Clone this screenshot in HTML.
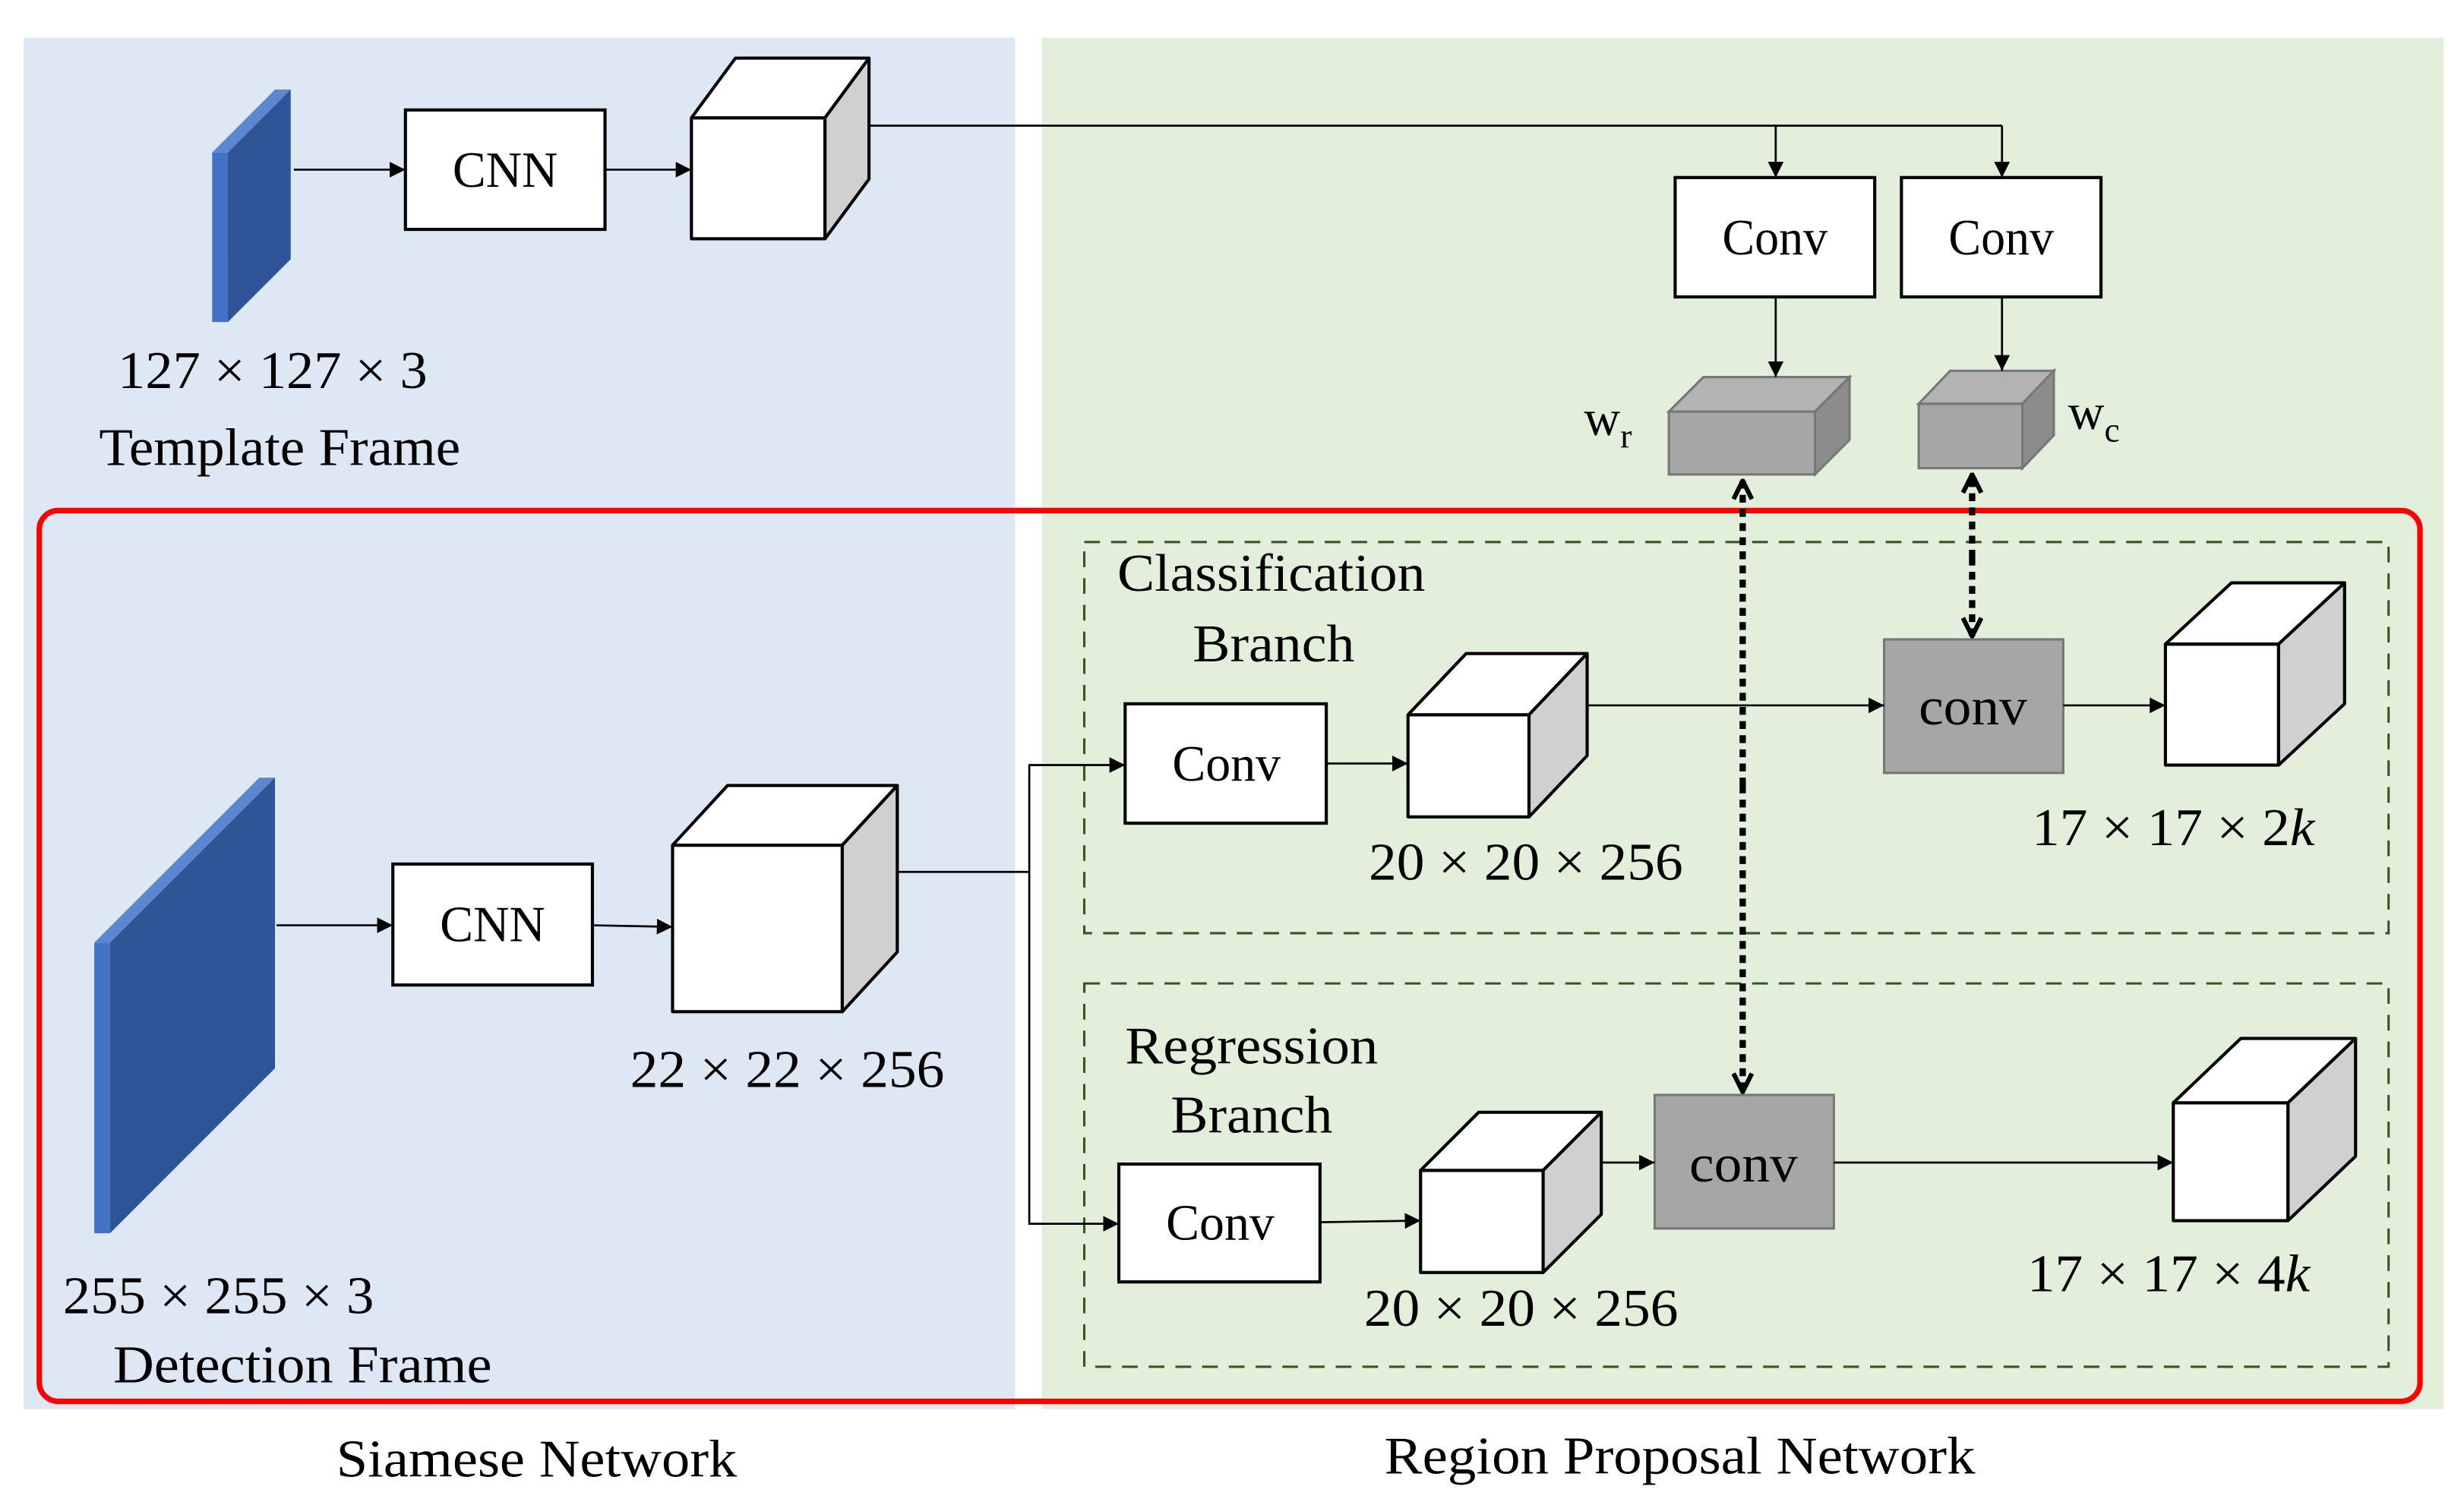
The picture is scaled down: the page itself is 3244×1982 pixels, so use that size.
<!DOCTYPE html>
<html><head><meta charset="utf-8"><style>html,body{margin:0;padding:0;background:#fff}svg{display:block}</style></head><body>
<svg width="3244" height="1982" viewBox="0 0 1568 958" xmlns="http://www.w3.org/2000/svg" font-family="'Liberation Serif', serif">
<defs>
<marker id="a" viewBox="0 0 10 10" refX="10" refY="5" markerWidth="10" markerHeight="10" markerUnits="userSpaceOnUse" orient="auto"><path d="M0,0L10,5L0,10z" fill="#000"/></marker>
<marker id="o" viewBox="0 0 12 12" refX="11" refY="6" markerWidth="14" markerHeight="14" markerUnits="userSpaceOnUse" orient="auto"><path d="M1,1L11,6L1,11" fill="none" stroke="#000" stroke-width="2.5"/></marker>
</defs>
<rect width="1568" height="958" fill="#fff"/>
<rect x="15" y="24" width="631" height="873" fill="#dee8f4"/>
<rect x="663" y="24" width="892" height="873" fill="#e2efda"/>

<polygon points="135,97 145,97 145,205 135,205" fill="#4472c4"/>
<polygon points="135,97 175,57 185,57 145,97" fill="#5b86d0"/>
<polygon points="145,97 185,57 185,165 145,205" fill="#2f5597"/>
<polygon points="60,600 70,600 70,785 60,785" fill="#4472c4"/>
<polygon points="60,600 165,495 175,495 70,600" fill="#5b86d0"/>
<polygon points="70,600 175,495 175,680 70,785" fill="#2f5597"/>

<g stroke="#000" stroke-width="2" fill="#fff">
<rect x="258" y="70" width="127" height="76"/>
<rect x="250" y="550" width="127" height="77"/>
<rect x="1066" y="113" width="127" height="76"/>
<rect x="1210" y="113" width="127" height="76"/>
<rect x="716" y="448" width="128" height="76"/>
<rect x="712" y="741" width="128" height="75"/>
</g>
<g fill="#000" font-size="32" lengthAdjust="spacingAndGlyphs">
<text x="288" y="119" textLength="67" lengthAdjust="spacingAndGlyphs">CNN</text>
<text x="280" y="599" textLength="67" lengthAdjust="spacingAndGlyphs">CNN</text>
<text x="1096" y="162" textLength="67" lengthAdjust="spacingAndGlyphs">Conv</text>
<text x="1240" y="162" textLength="67" lengthAdjust="spacingAndGlyphs">Conv</text>
<text x="746" y="497" textLength="69" lengthAdjust="spacingAndGlyphs">Conv</text>
<text x="742" y="789" textLength="69" lengthAdjust="spacingAndGlyphs">Conv</text>
</g>

<g stroke="#000" stroke-width="2" stroke-linejoin="round">
<g><rect x="440" y="75" width="85" height="77" fill="#fff"/><polygon points="440,75 468,37 553,37 525,75" fill="#fff"/><polygon points="525,75 553,37 553,114 525,152" fill="#d0d0d0"/></g>
<g><rect x="428" y="538" width="108" height="106" fill="#fff"/><polygon points="428,538 463,500 571,500 536,538" fill="#fff"/><polygon points="536,538 571,500 571,606 536,644" fill="#d0d0d0"/></g>
<g><rect x="896" y="455" width="77" height="65" fill="#fff"/><polygon points="896,455 933,416 1010,416 973,455" fill="#fff"/><polygon points="973,455 1010,416 1010,481 973,520" fill="#d0d0d0"/></g>
<g><rect x="1378" y="410" width="72" height="77" fill="#fff"/><polygon points="1378,410 1420,371 1492,371 1450,410" fill="#fff"/><polygon points="1450,410 1492,371 1492,448 1450,487" fill="#d0d0d0"/></g>
<g><rect x="904" y="745" width="78" height="65" fill="#fff"/><polygon points="904,745 941,708 1019,708 982,745" fill="#fff"/><polygon points="982,745 1019,708 1019,773 982,810" fill="#d0d0d0"/></g>
<g><rect x="1383" y="702" width="73" height="75" fill="#fff"/><polygon points="1383,702 1426,661 1499,661 1456,702" fill="#fff"/><polygon points="1456,702 1499,661 1499,736 1456,777" fill="#d0d0d0"/></g>
</g>
<g stroke="#777" stroke-width="1.5">
<rect x="1062" y="262" width="93" height="40" fill="#a6a6a6"/><polygon points="1062,262 1084,240 1177,240 1155,262" fill="#b3b3b3"/><polygon points="1155,262 1177,240 1177,280 1155,302" fill="#8c8c8c"/>
<rect x="1221" y="257" width="66" height="41" fill="#a6a6a6"/><polygon points="1221,257 1241,236 1307,236 1287,257" fill="#b3b3b3"/><polygon points="1287,257 1307,236 1307,277 1287,298" fill="#8c8c8c"/>
<rect x="1199" y="407" width="114" height="85" fill="#a6a6a6"/>
<rect x="1053" y="697" width="114" height="85" fill="#a6a6a6"/>
</g>
<g fill="#000" font-size="34">
<text x="1221" y="461" textLength="69" lengthAdjust="spacingAndGlyphs">conv</text>
<text x="1075" y="752" textLength="69" lengthAdjust="spacingAndGlyphs">conv</text>
</g>
<text x="1008" y="277" font-size="32">w<tspan font-size="22" dy="8">r</tspan></text>
<text x="1316" y="273" font-size="32">w<tspan font-size="22" dy="8">c</tspan></text>

<rect x="25" y="325" width="1515" height="567" rx="12" fill="none" stroke="#ff0000" stroke-width="3.5"/>
<rect x="690" y="345" width="830" height="249" fill="none" stroke="#375623" stroke-width="1.5" stroke-dasharray="10,7"/>
<rect x="690" y="626" width="830" height="244" fill="none" stroke="#375623" stroke-width="1.5" stroke-dasharray="10,7"/>

<g stroke="#000" stroke-width="1.3" fill="none">
<line x1="187" y1="108" x2="258" y2="108" marker-end="url(#a)"/>
<line x1="385" y1="108" x2="440" y2="108" marker-end="url(#a)"/>
<polyline points="553,80 1274,80"/>
<line x1="1130" y1="80" x2="1130" y2="113" marker-end="url(#a)"/>
<line x1="1274" y1="80" x2="1274" y2="113" marker-end="url(#a)"/>
<line x1="1130" y1="189" x2="1130" y2="240" marker-end="url(#a)"/>
<line x1="1274" y1="189" x2="1274" y2="236" marker-end="url(#a)"/>
<line x1="176" y1="589" x2="250" y2="589" marker-end="url(#a)"/>
<line x1="377" y1="589" x2="428" y2="590" marker-end="url(#a)"/>
<polyline points="571,555 655,555"/>
<polyline points="716,487 655,487 655,779 712,779"/>
<line x1="655" y1="487" x2="716" y2="487" marker-end="url(#a)"/>
<line x1="655" y1="779" x2="712" y2="779" marker-end="url(#a)"/>
<line x1="844" y1="486" x2="896" y2="486" marker-end="url(#a)"/>
<line x1="1010" y1="449" x2="1199" y2="449" marker-end="url(#a)"/>
<line x1="1313" y1="449" x2="1378" y2="449" marker-end="url(#a)"/>
<line x1="840" y1="778" x2="904" y2="777" marker-end="url(#a)"/>
<line x1="1019" y1="740" x2="1053" y2="740" marker-end="url(#a)"/>
<line x1="1167" y1="740" x2="1383" y2="740" marker-end="url(#a)"/>
</g>
<g stroke="#000" stroke-width="4" stroke-dasharray="5,4" fill="none">
<line x1="1109" y1="500" x2="1109" y2="306" marker-end="url(#o)"/>
<line x1="1109" y1="500" x2="1109" y2="695" marker-end="url(#o)"/>
<line x1="1255" y1="355" x2="1255" y2="302" marker-end="url(#o)"/>
<line x1="1255" y1="355" x2="1255" y2="405" marker-end="url(#o)"/>
</g>

<g fill="#000" font-size="34">
<text x="75" y="247" textLength="197" lengthAdjust="spacingAndGlyphs">127 × 127 × 3</text>
<text x="63" y="296" textLength="230" lengthAdjust="spacingAndGlyphs">Template Frame</text>
<text x="40" y="836" textLength="198" lengthAdjust="spacingAndGlyphs">255 × 255 × 3</text>
<text x="72" y="880" textLength="241" lengthAdjust="spacingAndGlyphs">Detection Frame</text>
<text x="401" y="692" textLength="200" lengthAdjust="spacingAndGlyphs">22 × 22 × 256</text>
<text x="711" y="376" textLength="196" lengthAdjust="spacingAndGlyphs">Classification</text>
<text x="759" y="421" textLength="103" lengthAdjust="spacingAndGlyphs">Branch</text>
<text x="871" y="560" textLength="200" lengthAdjust="spacingAndGlyphs">20 × 20 × 256</text>
<text x="1293" y="538" textLength="180" lengthAdjust="spacingAndGlyphs">17 × 17 × 2<tspan font-style="italic">k</tspan></text>
<text x="716" y="677" textLength="161" lengthAdjust="spacingAndGlyphs">Regression</text>
<text x="745" y="721" textLength="103" lengthAdjust="spacingAndGlyphs">Branch</text>
<text x="868" y="844" textLength="200" lengthAdjust="spacingAndGlyphs">20 × 20 × 256</text>
<text x="1290" y="822" textLength="180" lengthAdjust="spacingAndGlyphs">17 × 17 × 4<tspan font-style="italic">k</tspan></text>
<text x="214" y="940" textLength="255" lengthAdjust="spacingAndGlyphs">Siamese Network</text>
<text x="881" y="938" textLength="376" lengthAdjust="spacingAndGlyphs">Region Proposal Network</text>
</g>
</svg>
</body></html>
